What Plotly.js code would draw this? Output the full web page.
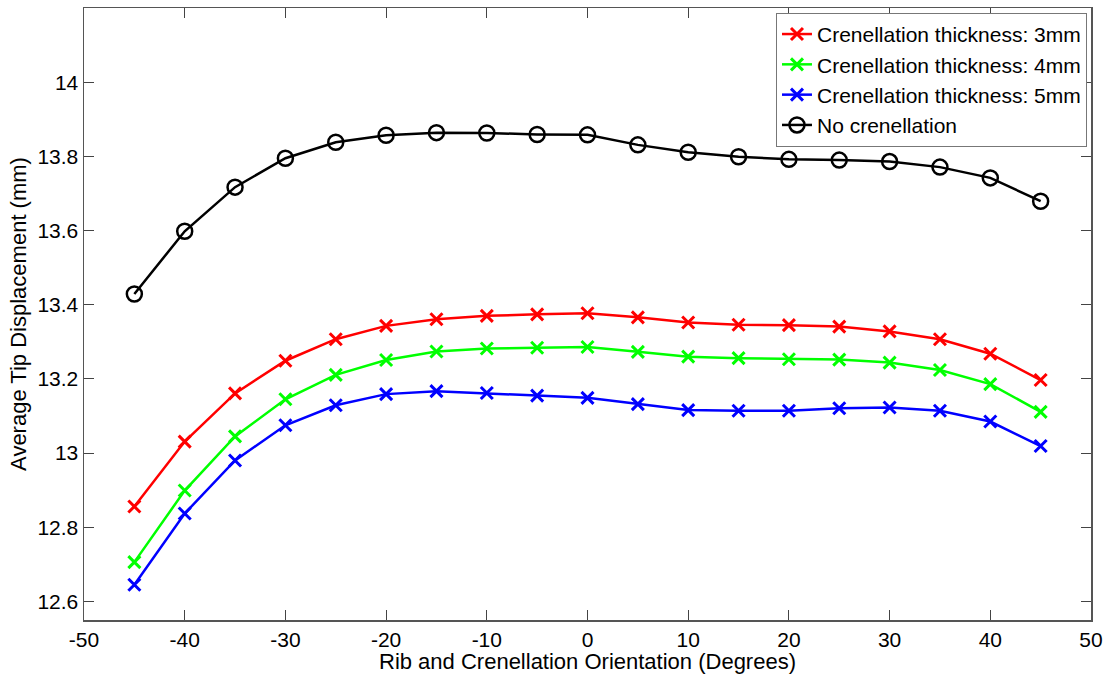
<!DOCTYPE html>
<html>
<head>
<meta charset="utf-8">
<script src="https://cdn.plot.ly/plotly-3.0.1.min.js"></script>
<style>html,body{margin:0;padding:0;background:#fff}#chart{width:1112px;height:674px}</style>
</head>
<body>
<div id="chart"></div>
<script>
const angles = [-45,-40,-35,-30,-25,-20,-15,-10,-5,0,5,10,15,20,25,30,35,40,45];
const thick3mm = [12.856,13.031,13.161,13.249,13.307,13.343,13.361,13.370,13.374,13.377,13.366,13.352,13.346,13.345,13.341,13.328,13.307,13.268,13.197];
const thick4mm = [12.706,12.899,13.045,13.145,13.211,13.251,13.274,13.282,13.284,13.286,13.273,13.260,13.256,13.253,13.252,13.244,13.224,13.186,13.111];
const thick5mm = [12.645,12.837,12.980,13.075,13.129,13.159,13.167,13.162,13.155,13.149,13.132,13.116,13.114,13.114,13.121,13.123,13.114,13.085,13.019];
const noCren = [13.429,13.598,13.717,13.795,13.838,13.857,13.864,13.863,13.859,13.858,13.831,13.811,13.799,13.792,13.790,13.786,13.771,13.742,13.679];
const seriesNames = ['Crenellation thickness: 3mm','Crenellation thickness: 4mm','Crenellation thickness: 5mm','No crenellation'];
const xTickVals = [-50,-40,-30,-20,-10,0,10,20,30,40,50];
const xTickText = ['-50','-40','-30','-20','-10','0','10','20','30','40','50'];
const yTickVals = [12.6,12.8,13,13.2,13.4,13.6,13.8,14];
const yTickText = ['12.6','12.8','13','13.2','13.4','13.6','13.8','14'];

const FONT = 'Arial, "Liberation Sans", sans-serif';
function xTrace(y, name, color){
  return {x: angles, y: y, name: name, type:'scatter', mode:'lines+markers',
    line:{color:color, width:2.5},
    marker:{symbol:'x-thin', size:12, line:{color:color, width:3}, color:color}};
}
const traces = [
  xTrace(thick3mm, seriesNames[0], '#ff0000'),
  xTrace(thick4mm, seriesNames[1], '#00ff00'),
  xTrace(thick5mm, seriesNames[2], '#0000ff'),
  {x: angles, y: noCren, name: seriesNames[3], type:'scatter', mode:'lines+markers',
    line:{color:'#000000', width:2.5},
    marker:{symbol:'circle-open', size:15, line:{color:'#000000', width:2.5}}}
];
const axisCommon = {
  showgrid:false, zeroline:false, showline:true, linecolor:'#555555', linewidth:1.5,
  mirror:'ticks', ticks:'inside', ticklen:10, tickwidth:1, tickcolor:'#444444',
  tickfont:{family:FONT, size:21, color:'#000'}
};
const layout = {
  width:1112, height:674,
  margin:{l:84, r:21, t:8, b:54},
  paper_bgcolor:'#fff', plot_bgcolor:'#fff',
  font:{family:FONT, color:'#000', size:21},
  xaxis: Object.assign({}, axisCommon, {
    range:[-50,50], tickvals:xTickVals, ticktext:xTickText,
    title:{text:'Rib and Crenellation Orientation (Degrees)', font:{family:FONT, size:22}, standoff:0}
  }),
  yaxis: Object.assign({}, axisCommon, {
    range:[12.55,14.2], tickvals:yTickVals, ticktext:yTickText,
    title:{text:'Average Tip Displacement (mm)', font:{family:FONT, size:22}, standoff:4}
  }),
  showlegend:true,
  legend:{x:0.996, y:0.992, xanchor:'right', yanchor:'top',
    bgcolor:'#fff', bordercolor:'#777777', borderwidth:1,
    font:{size:21, family:FONT, color:'#000'},
    tracegroupgap:0, itemwidth:30}
};
Plotly.newPlot('chart', traces, layout, {staticPlot:true, displayModeBar:false});
</script>
</body>
</html>
